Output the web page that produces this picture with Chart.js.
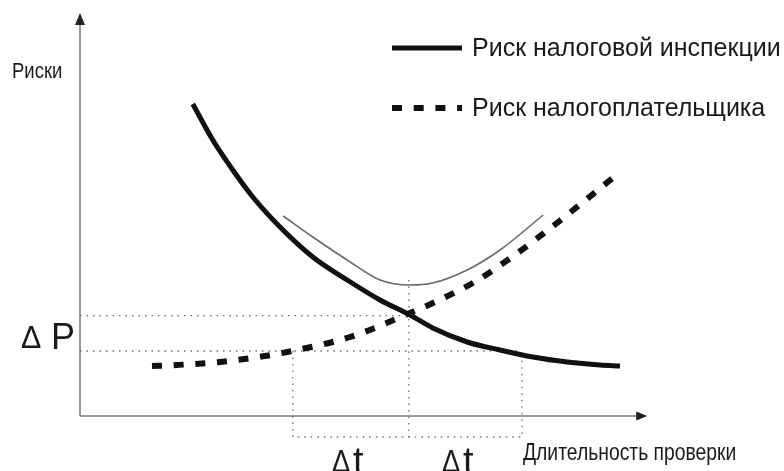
<!DOCTYPE html>
<html>
<head>
<meta charset="utf-8">
<script src="https://cdn.jsdelivr.net/npm/chart.js@4/dist/chart.umd.min.js"></script>
<style>
  html, body { margin: 0; padding: 0; background: #fff; }
  canvas { display: block; }
</style>
</head>
<body>
<canvas id="myChart" width="784" height="471"></canvas>
<script>
// риск налоговой инспекции (сплошная)
const inspX = [14.1, 16.6, 19.1, 21.6, 25, 29.1, 33.4, 37.5, 41.25, 44.1, 48.4, 52.5, 56.6, 60.9, 65, 67.5];
const inspY = [78, 69, 61.5, 54.75, 47.25, 39.75, 34, 29, 25.25, 22, 18.5, 16.5, 14.75, 13.5, 12.75, 12.5];
// риск налогоплательщика (пунктир)
const payerX = [9, 12.1, 17.5, 23.1, 25.9, 33.75, 41.25, 44.1, 49.1, 54, 58.5, 62.9, 67.5];
const payerY = [12.5, 12.75, 13.5, 15, 16, 19.75, 25.75, 28.25, 33.25, 39.75, 46.5, 53.5, 61];
// общий риск (тонкая)
const sumX = [25.4, 29.1, 33.4, 37.5, 41.25, 44.1, 48.4, 52.5, 57.9];
const sumY = [50, 44.75, 39, 34, 32.75, 33.25, 36.5, 41.5, 50.25];
// уровни для ΔP и границы Δt
const deltaP = [16.25, 25.1];
const deltaT = [26.6, 41.1, 55.25];
const guideLow = -5.25;
const guideTop = 34;
const axisEnd = [70.9, 100.75];

const legendLabels = ['Риск налоговой инспекции', 'Риск налогоплательщика'];
const axisLabels = ['Риски', 'Длительность проверки'];

function pts(xs, ys) {
  return xs.map((x, i) => ({ x: x, y: ys[i] }));
}

const guideStyle = {
  borderColor: '#6e6e6e',
  borderWidth: 1.3,
  borderDash: [1.5, 5],
  pointRadius: 0,
  fill: false,
  order: 10
};

const drawExtras = {
  id: 'drawExtras',
  beforeDatasetsDraw(chart) {
    const ctx = chart.ctx;
    const xs = chart.scales.x, ys = chart.scales.y;
    const x0 = xs.getPixelForValue(0), y0 = ys.getPixelForValue(0);
    const xEnd = xs.getPixelForValue(axisEnd[0]);
    const yEnd = ys.getPixelForValue(axisEnd[1]);
    ctx.save();
    ctx.strokeStyle = '#7a7a7a';
    ctx.lineWidth = 1.5;
    ctx.beginPath();
    ctx.moveTo(x0, y0);
    ctx.lineTo(xEnd - 8, y0);
    ctx.moveTo(x0, y0);
    ctx.lineTo(x0, yEnd + 8);
    ctx.stroke();
    ctx.fillStyle = '#222';
    ctx.beginPath();
    ctx.moveTo(xEnd, y0);
    ctx.lineTo(xEnd - 11, y0 - 4.5);
    ctx.lineTo(xEnd - 11, y0 + 4.5);
    ctx.closePath();
    ctx.fill();
    ctx.beginPath();
    ctx.moveTo(x0, yEnd);
    ctx.lineTo(x0 - 5, yEnd + 12);
    ctx.lineTo(x0 + 5, yEnd + 12);
    ctx.closePath();
    ctx.fill();
    ctx.restore();
  },
  afterDraw(chart) {
    const ctx = chart.ctx;
    ctx.save();
    ctx.fillStyle = '#1a1a1a';
    ctx.textBaseline = 'alphabetic';

    // текст с горизонтальным сжатием
    function narrow(text, x, y, size, k) {
      ctx.save();
      ctx.font = size + 'px "Liberation Sans", Arial, sans-serif';
      ctx.translate(x, y);
      ctx.scale(k, 1);
      ctx.fillText(text, 0, 0);
      ctx.restore();
    }
    narrow(axisLabels[0], 12, 78, 22, 0.84);
    narrow(axisLabels[1], 523, 460, 23, 0.84);

    // ΔP
    narrow('Δ', 21, 348, 32, 0.95);
    narrow('P', 51, 349, 36, 1);

    // Δt
    [332, 442].forEach(x => {
      narrow('Δ', x, 472, 32, 0.85);
      narrow('t', x + 21, 474, 38, 1);
    });

    // легенда
    const ds = chart.data.datasets;
    [0, 1].forEach(i => {
      const y = 48 + i * 60;
      ctx.save();
      ctx.strokeStyle = ds[i].borderColor;
      ctx.lineWidth = ds[i].borderWidth;
      ctx.setLineDash(ds[i].borderDash || []);
      ctx.beginPath();
      ctx.moveTo(392, y);
      ctx.lineTo(462, y);
      ctx.stroke();
      ctx.restore();
      ctx.font = '25px "Liberation Sans", Arial, sans-serif';
      ctx.textBaseline = 'middle';
      ctx.fillText(legendLabels[i], 472, y + 1);
    });
    ctx.restore();
  }
};

const myChart = document.getElementById('myChart').getContext('2d');
const chart = new Chart(myChart, {
  type: 'line',
  data: {
    datasets: [
      {
        label: legendLabels[0],
        data: pts(inspX, inspY),
        borderColor: '#111',
        borderWidth: 5,
        pointRadius: 0,
        cubicInterpolationMode: 'monotone',
        fill: false,
        order: 1
      },
      {
        label: legendLabels[1],
        data: pts(payerX, payerY),
        borderColor: '#111',
        borderWidth: 6,
        borderDash: [10, 11.7],
        borderCapStyle: 'butt',
        pointRadius: 0,
        cubicInterpolationMode: 'monotone',
        fill: false,
        order: 2
      },
      {
        label: 'sum',
        data: pts(sumX, sumY),
        borderColor: '#6a6a6a',
        borderWidth: 1.6,
        pointRadius: 0,
        cubicInterpolationMode: 'monotone',
        fill: false,
        order: 3
      },
      Object.assign({ data: [{ x: 0, y: deltaP[1] }, { x: deltaT[1], y: deltaP[1] }] }, guideStyle),
      Object.assign({ data: [{ x: 0, y: deltaP[0] }, { x: deltaT[2], y: deltaP[0] }] }, guideStyle),
      Object.assign({ data: [{ x: deltaT[1], y: guideTop }, { x: deltaT[1], y: guideLow }] }, guideStyle),
      Object.assign({ data: [
        { x: deltaT[0], y: deltaP[0] }, { x: deltaT[0], y: guideLow },
        { x: deltaT[2], y: guideLow }, { x: deltaT[2], y: deltaP[0] }
      ] }, guideStyle)
    ]
  },
  options: {
    responsive: false,
    animation: false,
    layout: { padding: { top: 16, left: 0, right: 0, bottom: 0 } },
    plugins: {
      legend: { display: false },
      tooltip: { enabled: false }
    },
    scales: {
      x: { type: 'linear', min: -10, max: 88, display: false },
      y: { type: 'linear', min: -13.75, max: 100, display: false }
    }
  },
  plugins: [drawExtras]
});
</script>
</body>
</html>
